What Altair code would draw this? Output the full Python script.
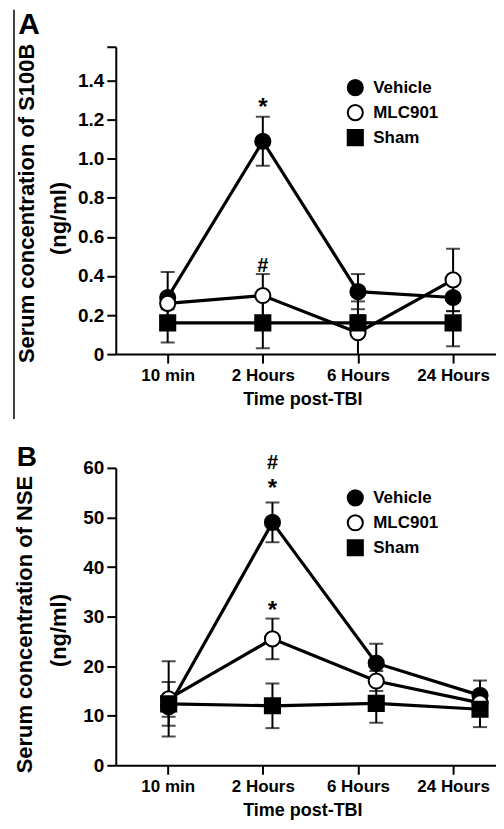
import json
import altair as alt
import pandas as pd

FONT = "Liberation Sans"

times = ["10 min", "2 Hours", "6 Hours", "24 Hours"]
series = ["Vehicle", "MLC901", "Sham"]

# Panel A: serum S100B (ng/ml)
s100b_vehicle = [0.29, 1.09, 0.32, 0.29]
s100b_vehicle_sem = [0.13, 0.125, 0.09, 0.07]
s100b_mlc = [0.26, 0.30, 0.11, 0.38]
s100b_mlc_sem = [0.03, 0.11, 0.16, 0.16]
s100b_sham = [0.16, 0.16, 0.16, 0.16]
s100b_sham_sem = [0.10, 0.13, 0.04, 0.12]
s100b_marks = ["*", "#"]
s100b_mark_time = [1, 1]
s100b_mark_y = [1.26, 0.45]

# Panel B: serum NSE (ng/ml)
nse_vehicle = [11.8, 49.0, 20.6, 14.1]
nse_vehicle_sem = [2.0, 4.0, 3.9, 3.0]
nse_mlc = [13.4, 25.5, 17.0, 12.6]
nse_mlc_sem = [7.6, 4.1, 2.0, 1.0]
nse_sham = [12.4, 12.0, 12.5, 11.3]
nse_sham_sem = [4.4, 4.5, 3.9, 3.6]
nse_marks = ["#", "*", "*"]
nse_mark_time = [1, 1, 1]
nse_mark_y = [61.0, 55.8, 31.2]


def frame(vals, sems):
    rows = []
    for s, v, e in zip(series, vals, sems):
        for i in range(len(times)):
            rows.append({"idx": i, "series": s, "value": v[i],
                         "lo": v[i] - e[i], "hi": v[i] + e[i]})
    return pd.DataFrame(rows)


label_expr = json.dumps(times) + "[datum.value]"


def panel(df, ann, letter, letter_size, letter_xy, title1, t1_xy, t2_xy,
          y_domain, y_values, y_label_expr, data_dom, axis_dom, height, leg_y):
    ysc = alt.Scale(domain=y_domain, nice=False, zero=False)
    yaxis = alt.Axis(values=y_values, labelExpr=y_label_expr, title=None, grid=False,
                     labelFontSize=19, labelFont=FONT, labelFontWeight="bold",
                     labelPadding=3, tickSize=9, tickWidth=2, domainWidth=2,
                     domainColor="black", tickColor="black", labelColor="black",
                     labelFlush=False, labelOverlap=False)
    xd = alt.X("idx:Q", scale=alt.Scale(domain=data_dom, nice=False, zero=False), axis=None)

    axis_layer = alt.Chart(df).mark_point(opacity=0).encode(
        x=alt.X("idx:Q", scale=alt.Scale(domain=axis_dom, nice=False, zero=False),
                axis=alt.Axis(values=[0, 1, 2, 3], labelExpr=label_expr, grid=False,
                              title="Time post-TBI", titleFontSize=18, titleFont=FONT,
                              titleFontWeight="bold", titleColor="black", titlePadding=7,
                              titleX=187,
                              labelFontSize=17, labelFont=FONT, labelFontWeight="bold",
                              labelColor="black", labelPadding=4,
                              tickSize=9, tickWidth=2, domainWidth=2,
                              domainColor="black", tickColor="black",
                              labelFlush=False, labelOverlap=False)),
        y=alt.Y("value:Q", scale=ysc, axis=yaxis),
    )
    lines = alt.Chart(df).mark_line(color="black", strokeWidth=3.2).encode(
        x=xd, y=alt.Y("value:Q", scale=ysc, axis=yaxis), detail="series:N")
    rules = alt.Chart(df).mark_rule(color="black", strokeWidth=2, clip=True).encode(
        x=xd, y=alt.Y("lo:Q", scale=ysc, axis=yaxis), y2="hi:Q")
    cap_lo = alt.Chart(df).mark_tick(color="black", orient="horizontal", size=14,
                                     thickness=2, clip=True).encode(
        x=xd, y=alt.Y("lo:Q", scale=ysc, axis=yaxis))
    cap_hi = alt.Chart(df).mark_tick(color="black", orient="horizontal", size=14,
                                     thickness=2, clip=True).encode(
        x=xd, y=alt.Y("hi:Q", scale=ysc, axis=yaxis))
    leg = alt.Legend(title=None, orient="none", legendX=231, legendY=leg_y,
                     labelFont=FONT, labelFontSize=17, labelFontWeight="bold",
                     labelColor="black", symbolSize=230, symbolStrokeColor="black",
                     symbolStrokeWidth=2, symbolOpacity=1, rowPadding=1,
                     labelOffset=9, padding=0)
    points = alt.Chart(df).mark_point(filled=True, size=230, stroke="black",
                                      strokeWidth=2, opacity=1).encode(
        x=xd, y=alt.Y("value:Q", scale=ysc, axis=yaxis),
        shape=alt.Shape("series:N", scale=alt.Scale(domain=series,
                        range=["circle", "circle", "square"]), legend=leg),
        fill=alt.Fill("series:N", scale=alt.Scale(domain=series,
                      range=["black", "white", "black"]), legend=leg),
        stroke=alt.Stroke("series:N", scale=alt.Scale(domain=series,
                          range=["black", "black", "black"]), legend=leg),
    )
    stars = ann[ann["t"] == "*"]
    hashes = ann[ann["t"] == "#"]
    star_layer = alt.Chart(stars).mark_text(font=FONT, fontWeight="bold", fontSize=24,
                                            color="black", baseline="middle").encode(
        x=xd, y=alt.Y("y:Q", scale=ysc, axis=yaxis), text="t:N")
    hash_layer = alt.Chart(hashes).mark_text(font=FONT, fontWeight="bold", fontSize=20,
                                             color="black", baseline="middle").encode(
        x=xd, y=alt.Y("y:Q", scale=ysc, axis=yaxis), text="t:N")
    one = pd.DataFrame({"t": [title1], "u": ["(ng/ml)"], "l": [letter]})
    t1 = alt.Chart(one).mark_text(font=FONT, fontWeight="bold", fontSize=22, angle=270,
                                  align="center", baseline="middle", color="black").encode(
        x=alt.value(t1_xy[0]), y=alt.value(t1_xy[1]), text="t:N")
    t2 = alt.Chart(one).mark_text(font=FONT, fontWeight="bold", fontSize=22, angle=270,
                                  align="center", baseline="middle", color="black").encode(
        x=alt.value(t2_xy[0]), y=alt.value(t2_xy[1]), text="u:N")
    lt = alt.Chart(one).mark_text(font=FONT, fontWeight="bold", fontSize=letter_size,
                                  align="center", baseline="alphabetic", color="black").encode(
        x=alt.value(letter_xy[0]), y=alt.value(letter_xy[1]), text="l:N")
    layers = [axis_layer, lines, rules, cap_lo, cap_hi, points, star_layer, hash_layer,
              t1, t2, lt]
    return alt.layer(*layers).resolve_scale(x="independent").properties(
        width=381, height=height)


dfA = frame([s100b_vehicle, s100b_mlc, s100b_sham],
            [s100b_vehicle_sem, s100b_mlc_sem, s100b_sham_sem])
dfB = frame([nse_vehicle, nse_mlc, nse_sham],
            [nse_vehicle_sem, nse_mlc_sem, nse_sham_sem])
annA = pd.DataFrame({"t": s100b_marks, "idx": s100b_mark_time, "y": s100b_mark_y})
annB = pd.DataFrame({"t": nse_marks, "idx": nse_mark_time, "y": nse_mark_y})

topA = 1.574
panelA = panel(dfA, annA, "A", 30, (-87, -13), "Serum concentration of S100B",
               (-89, 157), (-57, 172), [0, topA],
               [0, 0.2, 0.4, 0.6, 0.8, 1.0, 1.2, 1.4, topA],
               "datum.value > 1.5 ? '' : (datum.value == 0 ? '0' : format(datum.value, '.1f'))",
               [-0.5455, 3.451], [-0.5455, 3.451], 308, 32)
edge = pd.DataFrame({"k": [0]})
border = alt.Chart(edge).mark_rule(color="black", strokeWidth=1.5).encode(
    x=alt.value(-102), y=alt.value(-37), y2=alt.value(373))
panelA = alt.layer(panelA, border)

panelB = panel(dfB, annB, "B", 28, (-89, -2), "Serum concentration of NSE",
               (-91, 157), (-57, 163), [0, 60],
               [0, 10, 20, 30, 40, 50, 60], "format(datum.value, 'd')",
               [-0.5096, 3.154], [-0.5455, 3.451], 298, 21)

chart = alt.vconcat(panelA, panelB, spacing=114, bounds="flush").resolve_scale(
    shape="independent", fill="independent", stroke="independent").resolve_legend(
    shape="independent", fill="independent", stroke="independent").properties(
    padding={"left": 5, "top": 0, "right": 0, "bottom": 0}).configure_view(stroke=None)

chart.save("out.html", embed_options={"renderer": "svg", "actions": False})
